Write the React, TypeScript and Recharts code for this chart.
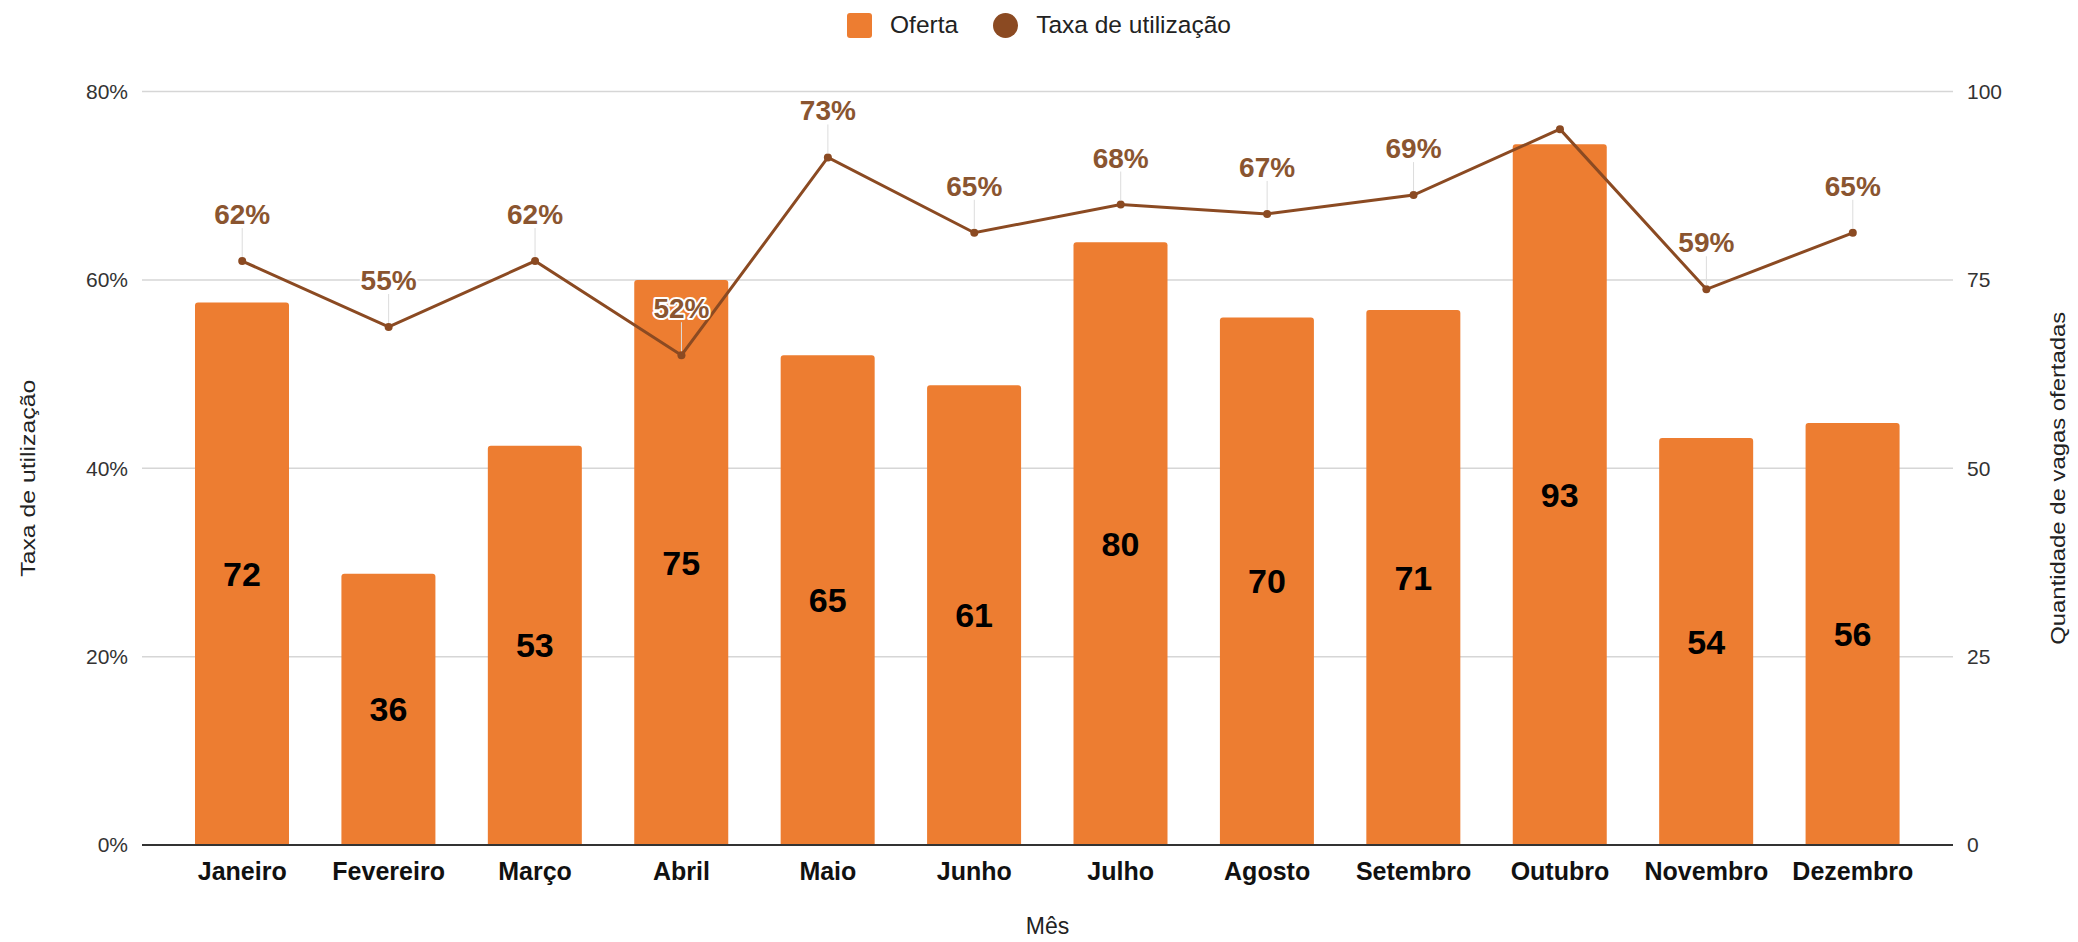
import {
  ComposedChart,
  Bar,
  Line,
  XAxis,
  YAxis,
  CartesianGrid,
  Legend,
  LabelList,
} from "recharts";

const months = [
  "Janeiro",
  "Fevereiro",
  "Março",
  "Abril",
  "Maio",
  "Junho",
  "Julho",
  "Agosto",
  "Setembro",
  "Outubro",
  "Novembro",
  "Dezembro",
];
// vagas ofertadas (eixo direito)
const ofertaValues = [72, 36, 53, 75, 65, 61, 80, 70, 71, 93, 54, 56];
// taxa de utilização em % (eixo esquerdo)
const taxaValues = [62, 55, 62, 52, 73, 65, 68, 67, 69, 76, 59, 65];
const leftTicks = [0, 20, 40, 60, 80];
const rightTicks = [0, 25, 50, 75, 100];
// rótulo que não aparece no gráfico original
const hiddenRateLabels = ["Outubro"];

const data = months.map((mes, i) => ({
  mes,
  oferta: ofertaValues[i],
  taxa: taxaValues[i],
}));

const BAR_COLOR = "#ED7D31";
const LINE_COLOR = "#8B4A22";
const RATE_LABEL_COLOR = "#8A5530";
const FONT = "'Liberation Sans', Arial, sans-serif";

function LegendContent() {
  return (
    <div
      style={{
        height: 30,
        display: "flex",
        alignItems: "center",
        justifyContent: "center",
        fontFamily: FONT,
        fontSize: 24.5,
        color: "#222",
      }}
    >
      <span
        style={{
          width: 25,
          height: 25,
          background: BAR_COLOR,
          borderRadius: 3,
          marginRight: 18,
        }}
      />
      <span style={{ marginRight: 35 }}>Oferta</span>
      <span
        style={{
          width: 25,
          height: 25,
          background: LINE_COLOR,
          borderRadius: "50%",
          marginRight: 18,
        }}
      />
      <span>Taxa de utilização</span>
    </div>
  );
}

function VerticalTitle(props: any) {
  const { viewBox, value, side, length } = props;
  if (!viewBox) return null;
  const cx = side === "left" ? viewBox.x + 19 : viewBox.x + 104;
  const cy = viewBox.y + viewBox.height / 2 + 10;
  return (
    <text
      x={cx}
      y={cy}
      transform={`rotate(-90, ${cx}, ${cy})`}
      textAnchor="middle"
      dominantBaseline="central"
      fontFamily={FONT}
      fontSize={21}
      fill="#222"
      textLength={length}
      lengthAdjust="spacingAndGlyphs"
    >
      {value}
    </text>
  );
}

function XTitle(props: any) {
  const { viewBox, value } = props;
  if (!viewBox) return null;
  return (
    <text
      x={viewBox.x + viewBox.width / 2}
      y={viewBox.y + 89}
      textAnchor="middle"
      fontFamily={FONT}
      fontSize={23}
      fill="#222"
    >
      {value}
    </text>
  );
}

function RateLabel(props: any) {
  const { x, y, value, index } = props;
  if (hiddenRateLabels.includes(months[index])) return null;
  return (
    <g>
      <line x1={x} y1={y - 4} x2={x} y2={y - 33} stroke="#dcdcdc" strokeWidth={1} />
      <text
        x={x}
        y={y - 37}
        textAnchor="middle"
        fontFamily={FONT}
        fontSize={28}
        fontWeight="bold"
        fill={RATE_LABEL_COLOR}
        stroke="#fff"
        strokeWidth={4}
        strokeLinejoin="round"
        paintOrder="stroke"
      >
        {`${value}%`}
      </text>
    </g>
  );
}

export default function App() {
  return (
    <div style={{ width: 2062, height: 934, fontFamily: FONT }}>
      <ComposedChart
        width={2062}
        height={934}
        data={data}
        margin={{ top: 53.5, right: 0, bottom: 0, left: 0 }}
      >
        <CartesianGrid yAxisId="left" vertical={false} stroke="#d6d6d6" strokeWidth={1.5} />
        <Legend verticalAlign="top" align="center" wrapperStyle={{ top: 2 }} content={<LegendContent />} />
        <XAxis
          dataKey="mes"
          height={97}
          padding={{ left: 27, right: 27 }}
          tickLine={false}
          tickMargin={11}
          axisLine={{ stroke: "#333", strokeWidth: 2 }}
          tick={{ fontSize: 25, fontWeight: "bold", fill: "#111", fontFamily: FONT }}
          interval={0}
          label={<XTitle value="Mês" />}
        />
        <YAxis
          yAxisId="left"
          orientation="left"
          width={134}
          domain={[0, 80]}
          ticks={leftTicks}
          tickFormatter={(v: number) => `${v}%`}
          axisLine={false}
          tickLine={false}
          tickMargin={8}
          tick={{ fontSize: 21, fill: "#333", fontFamily: FONT }}
          label={<VerticalTitle value="Taxa de utilização" side="left" length={197} />}
        />
        <YAxis
          yAxisId="right"
          orientation="right"
          width={117}
          domain={[0, 100]}
          ticks={rightTicks}
          axisLine={false}
          tickLine={false}
          tickMargin={8}
          tick={{ fontSize: 21, fill: "#333", fontFamily: FONT }}
          label={<VerticalTitle value="Quantidade de vagas ofertadas" side="right" length={333} />}
        />
        <Bar
          yAxisId="right"
          dataKey="oferta"
          name="Oferta"
          fill={BAR_COLOR}
          barSize={94}
          radius={[3, 3, 0, 0]}
          isAnimationActive={false}
        >
          <LabelList
            dataKey="oferta"
            position="center"
            fill="#000"
            fontSize={34}
            fontWeight="bold"
            fontFamily={FONT}
          />
        </Bar>
        <Line
          yAxisId="left"
          type="linear"
          dataKey="taxa"
          name="Taxa de utilização"
          stroke={LINE_COLOR}
          strokeWidth={3}
          dot={{ r: 4, fill: LINE_COLOR, stroke: "none" }}
          activeDot={false}
          isAnimationActive={false}
        >
          <LabelList dataKey="taxa" content={<RateLabel />} />
        </Line>
      </ComposedChart>
    </div>
  );
}
